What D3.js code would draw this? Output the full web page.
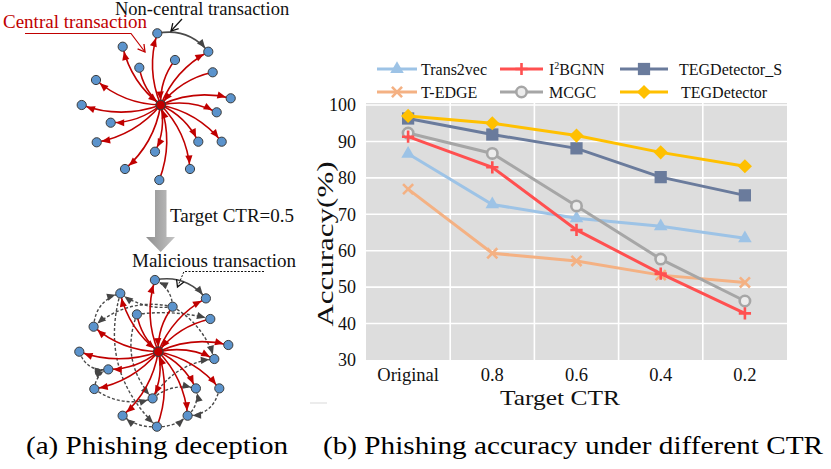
<!DOCTYPE html>
<html>
<head>
<meta charset="utf-8">
<script src="https://cdn.jsdelivr.net/npm/d3@7"></script>
<style>
body{margin:0;background:#fff;}
text{font-family:"Liberation Serif","Times New Roman",serif;}
</style>
</head>
<body>
<script>
// ---- chart data (b) ----
var ctrLabels = ["Original", "0.8", "0.6", "0.4", "0.2"];
var trans2vec = [86.6, 72.7, 68.9, 66.7, 63.4];
var i2bgnn    = [91.3, 82.9, 65.7, 53.7, 42.8];
var tegS      = [96.3, 91.9, 88.1, 80.2, 75.2];
var tedge     = [76.9, 59.3, 57.2, 53.3, 51.3];
var mcgc      = [92.3, 86.7, 72.3, 57.7, 46.2];
var teg       = [97.0, 95.0, 91.6, 87.0, 83.2];
var yTicks    = [30, 40, 50, 60, 70, 80, 90, 100];

// ---- diagram data (a): node offsets from the central account ----
var nodeDx = [-3.4, -38, 47.6, 14.3, -21.4, 52, -64.7, 70, -79, 56, -50, 37.6, 61, -64, -5.7, -35.7, 29.3, -1.4];
var nodeDy = [-71.7, -58.3, -53.3, -45, -37.3, -32.7, -25, -6.7, 0, 7.3, 17.7, 36.7, 36.7, 37.3, 46.7, 64, 64, 75];
var incoming = [3, 4, 5, 17];   // transactions pointing to the central node
// malicious (dashed) transactions added after attack: from, to, bend
var malFrom = [3, 3, 6, 3, 4, 8, 13, 13, 1, 4, 17, 17, 12, 16, 14, 14, 3];
var malTo   = [0, 1, 1, 6, 5, 10, 10, 14, 17, 14, 15, 16, 16, 11, 11, 9, 9];
var malBend = [-0.3, 0.2, 0.35, -0.25, 0.1, -0.4, 0.3, -0.25, -0.3, -0.3, 0.2, -0.2, 0.4, -0.3, 0.25, 0.25, 0.2];

var W = 831, H = 469;
var svg = d3.select("body").append("svg")
  .attr("width", W)
  .attr("height", H);

var defs = svg.append("defs");
function arrow(id, color, ref){
  defs.append("marker")
    .attr("id", id)
    .attr("viewBox", "0 -5 10 10")
    .attr("refX", ref)
    .attr("refY", 0)
    .attr("markerUnits", "userSpaceOnUse")
    .attr("markerWidth", 10)
    .attr("markerHeight", 10)
    .attr("orient", "auto")
    .style("overflow", "visible")
    .append("path")
    .attr("d", "M0,-3.6L8.5,0L0,3.6Z")
    .attr("fill", color);
}
arrow("arRed", "#c00000", 13.5);
arrow("arGray", "#454545", 13.5);
function openArrow(id, color){
  defs.append("marker")
    .attr("id", id)
    .attr("viewBox", "0 -5 10 10")
    .attr("refX", 8)
    .attr("refY", 0)
    .attr("markerUnits", "userSpaceOnUse")
    .attr("markerWidth", 10)
    .attr("markerHeight", 10)
    .attr("orient", "auto")
    .style("overflow", "visible")
    .append("path")
    .attr("d", "M1,-4L8,0L1,4")
    .attr("fill", "none")
    .attr("stroke", color)
    .attr("stroke-width", 1.3);
}
openArrow("openRed", "#c00000");
openArrow("openBlack", "#111");

var grad = defs.append("linearGradient").attr("id", "gArrow")
  .attr("x1", "0").attr("x2", "1").attr("y1", "0").attr("y2", "0");
grad.append("stop").attr("offset", "0").attr("stop-color", "#8f8f8f");
grad.append("stop").attr("offset", "0.5").attr("stop-color", "#a9a9a9");
grad.append("stop").attr("offset", "1").attr("stop-color", "#c4c4c4");

// curved edge, bow perpendicular to the travel direction
function qpath(x1, y1, x2, y2, b){
  var dx = x2 - x1, dy = y2 - y1;
  var cx = (x1 + x2) / 2 + dy * b, cy = (y1 + y2) / 2 - dx * b;
  return "M" + x1 + "," + y1 + "Q" + cx + "," + cy + " " + x2 + "," + y2;
}

var nodes = d3.range(nodeDx.length);
var bow = 0.18;

function drawGraph(cx, cy, withMalicious){
  var g = svg.append("g");
  var px = function(i){ return cx + nodeDx[i]; };
  var py = function(i){ return cy + nodeDy[i]; };

  if (withMalicious) {
    g.selectAll("path.mal")
      .data(d3.range(malFrom.length))
      .enter().append("path")
      .attr("class", "mal")
      .attr("d", function(k){ return qpath(px(malFrom[k]), py(malFrom[k]), px(malTo[k]), py(malTo[k]), malBend[k]); })
      .attr("fill", "none")
      .attr("stroke", "#4a4a4a")
      .attr("stroke-width", 1.4)
      .attr("stroke-dasharray", "3,2")
      .attr("marker-end", "url(#arGray)");
  }

  // non-central transaction
  g.append("path")
    .attr("d", qpath(px(0), py(0), px(2), py(2), 0.3))
    .attr("fill", "none")
    .attr("stroke", "#4a4a4a")
    .attr("stroke-width", 1.6)
    .attr("marker-end", "url(#arGray)");

  // central transactions
  g.selectAll("path.ctr")
    .data(nodes)
    .enter().append("path")
    .attr("class", "ctr")
    .attr("d", function(i){
      if (incoming.indexOf(i) >= 0) return qpath(px(i), py(i), cx, cy, -bow);
      return qpath(cx, cy, px(i), py(i), bow);
    })
    .attr("fill", "none")
    .attr("stroke", "#c00000")
    .attr("stroke-width", 1.6)
    .attr("marker-end", "url(#arRed)");

  g.selectAll("circle.acc")
    .data(nodes)
    .enter().append("circle")
    .attr("class", "acc")
    .attr("cx", px)
    .attr("cy", py)
    .attr("r", 4.6)
    .attr("fill", "#5b93cc")
    .attr("stroke", "#3c3c3c")
    .attr("stroke-width", 1);

  g.append("circle")
    .attr("cx", cx).attr("cy", cy)
    .attr("r", 4.8)
    .attr("fill", "#c00000")
    .attr("stroke", "#3c3c3c")
    .attr("stroke-width", 1.2);
}

drawGraph(160.7, 105, false);
drawGraph(158.3, 351.7, true);

// labels of panel (a)
svg.append("text").attr("x", 115).attr("y", 15).attr("font-size", 18.5).attr("fill", "#111")
  .text("Non-central transaction");
svg.append("path").attr("d", "M182,19L171,31")
  .attr("fill", "none").attr("stroke", "#111").attr("stroke-width", 1.2)
  .attr("marker-end", "url(#openBlack)");

svg.append("text").attr("x", 3).attr("y", 28).attr("font-size", 19).attr("fill", "#c00000")
  .text("Central transaction");
svg.append("path").attr("d", "M25,33.5L131,33.5L145,52")
  .attr("fill", "none").attr("stroke", "#c00000").attr("stroke-width", 1.2)
  .attr("marker-end", "url(#openRed)");

// big gray arrow
svg.append("path")
  .attr("d", "M155,190L166.5,190L166.5,237L175,237L160.7,252L146,237L155,237Z")
  .attr("fill", "url(#gArrow)");
svg.append("text").attr("x", 170).attr("y", 221.5).attr("font-size", 19).attr("fill", "#111")
  .text("Target CTR=0.5");

svg.append("text").attr("x", 132).attr("y", 267).attr("font-size", 19).attr("fill", "#111")
  .text("Malicious transaction");
svg.append("path").attr("d", "M264,271.5L184,271.5L177.5,287")
  .attr("fill", "none").attr("stroke", "#111").attr("stroke-width", 1)
  .attr("stroke-dasharray", "2,1.5")
  .attr("marker-end", "url(#openBlack)");

svg.append("text").attr("x", 26).attr("y", 454).attr("font-size", 25)
  .attr("textLength", 262).attr("lengthAdjust", "spacingAndGlyphs")
  .attr("fill", "#000").text("(a) Phishing deception");

// ---- panel (b): line chart ----
var x = d3.scaleBand().domain(ctrLabels).range([366, 787]);
var y = d3.scaleLinear().domain([30, 100]).range([360, 105]);
var xc = function(d){ return x(d) + x.bandwidth() / 2; };

svg.append("rect")
  .attr("x", 366).attr("y", y(100) - 2)
  .attr("width", 787 - 366).attr("height", y(30) - y(100) + 2)
  .attr("fill", "#dddddd");

svg.selectAll("line.hg")
  .data(yTicks.slice(1))
  .enter().append("line")
  .attr("class", "hg")
  .attr("x1", 366).attr("x2", 787)
  .attr("y1", function(d){ return y(d); })
  .attr("y2", function(d){ return y(d); })
  .attr("stroke", "#fff").attr("stroke-width", 1.6);

svg.selectAll("line.vg")
  .data(ctrLabels.slice(1))
  .enter().append("line")
  .attr("class", "vg")
  .attr("x1", function(d){ return x(d); })
  .attr("x2", function(d){ return x(d); })
  .attr("y1", y(100) - 2).attr("y2", y(30))
  .attr("stroke", "#fff").attr("stroke-width", 1.6);

var yAxis = svg.append("g")
  .attr("transform", "translate(366,0)")
  .call(d3.axisLeft(y).tickValues(yTicks).tickSize(0).tickPadding(10));
yAxis.select(".domain").remove();
yAxis.selectAll("text").attr("font-size", 18).attr("fill", "#111")
  .style("font-family", "Liberation Serif");

var xAxis = svg.append("g")
  .attr("transform", "translate(0,360)")
  .call(d3.axisBottom(x).tickSize(0));
xAxis.select(".domain").remove();
xAxis.selectAll("text").attr("font-size", 18.5).attr("fill", "#111")
  .attr("dy", null).attr("y", 21)
  .style("font-family", "Liberation Serif");

svg.append("text")
  .attr("x", 560).attr("y", 405)
  .attr("text-anchor", "middle")
  .attr("font-size", 22)
  .attr("textLength", 120).attr("lengthAdjust", "spacingAndGlyphs")
  .attr("fill", "#111")
  .text("Target CTR");

svg.append("text")
  .attr("transform", "translate(333,244) rotate(-90)")
  .attr("text-anchor", "middle")
  .attr("font-size", 23)
  .attr("textLength", 165).attr("lengthAdjust", "spacingAndGlyphs")
  .attr("fill", "#111")
  .text("Accuracy(%)");

svg.append("line")
  .attr("x1", 310).attr("x2", 327).attr("y1", 403).attr("y2", 403)
  .attr("stroke", "#d9d9d9").attr("stroke-width", 1);

// marker shapes
var diamond = { draw: function(ctx, s){ var r = Math.sqrt(s) / 2; ctx.moveTo(0, -r); ctx.lineTo(r, 0); ctx.lineTo(0, r); ctx.lineTo(-r, 0); ctx.closePath(); } };
var plus = { draw: function(ctx, s){ var r = Math.sqrt(s) / 2; ctx.moveTo(-r, 0); ctx.lineTo(r, 0); ctx.moveTo(0, -r); ctx.lineTo(0, r); } };
var cross = { draw: function(ctx, s){ var r = Math.sqrt(s) / 2.8; ctx.moveTo(-r, -r); ctx.lineTo(r, r); ctx.moveTo(-r, r); ctx.lineTo(r, -r); } };

var series = [
  { name: "Trans2vec",     values: trans2vec, color: "#9dc3e6", type: d3.symbolTriangle, size: 80,  fill: true },
  { name: "I2BGNN",        values: i2bgnn,    color: "#ff5050", type: plus,              size: 150, fill: false, sw: 2.6 },
  { name: "TEGDetector_S", values: tegS,      color: "#6a7b9c", type: d3.symbolSquare,   size: 150, fill: true },
  { name: "T-EDGE",        values: tedge,     color: "#f4b183", type: cross,             size: 200, fill: false, sw: 2.6 },
  { name: "MCGC",          values: mcgc,      color: "#a6a6a6", type: d3.symbolCircle,   size: 85,  fill: false, sw: 2.6 },
  { name: "TEGDetector",   values: teg,       color: "#ffc000", type: diamond,           size: 200, fill: true }
];
var drawOrder = [3, 0, 4, 1, 2, 5];

var line = d3.line()
  .x(function(d, i){ return xc(ctrLabels[i]); })
  .y(function(d){ return y(d); });

function symbolAttr(sel, s){
  sel.attr("d", d3.symbol().type(s.type).size(s.size)())
    .attr("fill", s.fill ? s.color : (s.type === d3.symbolCircle ? "#ececec" : "none"))
    .attr("stroke", s.color)
    .attr("stroke-width", s.fill ? 0 : s.sw);
}

drawOrder.forEach(function(k){
  var s = series[k];
  var g = svg.append("g");
  g.append("path")
    .datum(s.values)
    .attr("d", line)
    .attr("fill", "none")
    .attr("stroke", s.color)
    .attr("stroke-width", 3);
  g.selectAll("path.pt")
    .data(s.values)
    .enter().append("path")
    .attr("class", "pt")
    .attr("transform", function(d, i){ return "translate(" + xc(ctrLabels[i]) + "," + y(d) + ")"; })
    .call(symbolAttr, s);
});

// legend (3 columns x 2 rows)
var legX = [377, 500, 620];
var legLen = [40, 43, 48];
var legTx = [421, 549, 679];
var legY = [69, 92];
series.forEach(function(s, k){
  var col = k % 3, row = Math.floor(k / 3);
  var g = svg.append("g");
  g.append("line")
    .attr("x1", legX[col]).attr("x2", legX[col] + legLen[col])
    .attr("y1", legY[row]).attr("y2", legY[row])
    .attr("stroke", s.color).attr("stroke-width", 3);
  g.append("path")
    .attr("transform", "translate(" + (legX[col] + legLen[col] / 2) + "," + legY[row] + ")")
    .call(symbolAttr, s);
  var t = g.append("text")
    .attr("x", legTx[col] + (k === 5 ? 2 : 0)).attr("y", legY[row] + 5.5)
    .attr("font-size", 16).attr("fill", "#111");
  if (s.name === "I2BGNN") {
    t.append("tspan").text("I");
    t.append("tspan").attr("font-size", 10).attr("dy", -6).text("2");
    t.append("tspan").attr("dy", 6).text("BGNN");
  } else {
    t.text(s.name);
  }
});

svg.append("text").attr("x", 323).attr("y", 454).attr("font-size", 25)
  .attr("textLength", 500).attr("lengthAdjust", "spacingAndGlyphs")
  .attr("fill", "#000").text("(b) Phishing accuracy under different CTR");
</script>
</body>
</html>
